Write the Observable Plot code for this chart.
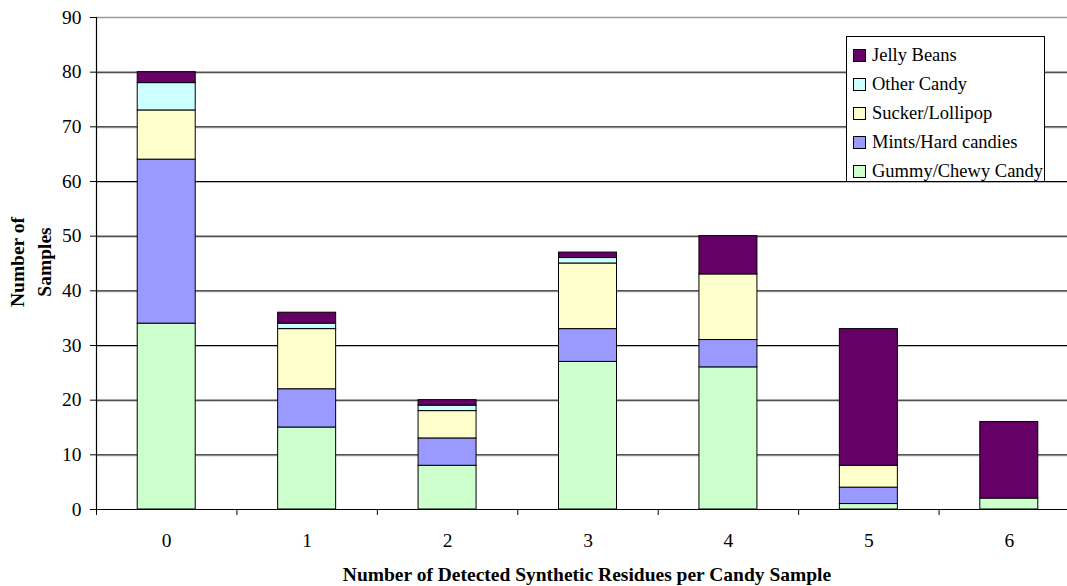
<!DOCTYPE html>
<html>
<head>
<meta charset="utf-8">
<script src="https://cdn.jsdelivr.net/npm/d3@7"></script>
<script src="https://cdn.jsdelivr.net/npm/@observablehq/plot@0.6"></script>
<style>
  html, body { margin: 0; padding: 0; background: #fff; overflow: hidden; }
  #wrap { position: relative; width: 1067px; height: 586px; overflow: hidden; font-family: "Liberation Serif", "Times New Roman", serif; }
  #wrap svg { overflow: hidden; }
  #wrap svg text, #wrap svg g { font-family: "Liberation Serif", "Times New Roman", serif !important; }
  .ytitle { position: absolute; left: 31px; top: 262px; transform: translate(-50%, -50%) rotate(-90deg); font-weight: bold; font-size: 19.5px; text-align: center; line-height: 27px; white-space: nowrap; }
  .xtitle { position: absolute; left: 587px; top: 575px; transform: translate(-50%, -50%); font-weight: bold; font-size: 19.5px; white-space: nowrap; }
  .legend { position: absolute; left: 846px; top: 36px; width: 199px; height: 146px; border: 1px solid #000; background: #fff; box-sizing: border-box; font-family: "Liberation Serif", "Times New Roman", serif; }
  .legend .item { position: absolute; left: 6px; height: 20px; display: flex; align-items: center; font-size: 18.5px; white-space: nowrap; }
  .legend .sw { width: 11px; height: 11px; border: 1px solid #000; margin-right: 6px; }
</style>
</head>
<body>
<div id="wrap"></div>
<script>
// Categories: number of detected synthetic residues
const categories = [0, 1, 2, 3, 4, 5, 6];
// Series (bottom to top in stack)
const seriesNames = ["Gummy/Chewy Candy", "Mints/Hard candies", "Sucker/Lollipop", "Other Candy", "Jelly Beans"];
const seriesColors = ["#CCFFCC", "#9999FF", "#FFFFCC", "#CCFFFF", "#660066"];
const gummy  = [34, 15, 8, 27, 26, 1, 2];
const mints  = [30, 7, 5, 6, 5, 3, 0];
const sucker = [9, 11, 5, 12, 12, 4, 0];
const other  = [5, 1, 1, 1, 0, 0, 0];
const jelly  = [2, 2, 1, 1, 7, 25, 14];
const yTicks = [0, 10, 20, 30, 40, 50, 60, 70, 80, 90];

const seriesValues = [gummy, mints, sucker, other, jelly];

// Build stacked rows
const rows = [];
categories.forEach((c, i) => {
  let base = 0;
  seriesNames.forEach((s, k) => {
    const v = seriesValues[k][i];
    rows.push({cat: c, series: s, y1: base, y2: base + v, value: v});
    base += v;
  });
});
const drawn = rows.filter(d => d.value > 0);
const halfBar = 0.2065;
const boundaries = d3.range(-0.5, 7, 1);

const chart = Plot.plot({
  width: 1067,
  height: 586,
  marginTop: 17,
  marginBottom: 77,
  marginLeft: 96,
  marginRight: 0,
  style: {fontFamily: "'Liberation Serif', 'Times New Roman', serif", fontSize: "19.5px", color: "#000", background: "#fff", overflow: "hidden"},
  x: {type: "linear", domain: [-0.5, 6.5], range: [96, 1079]},
  y: {domain: [0, 90]},
  color: {domain: seriesNames, range: seriesColors},
  marks: [
    Plot.ruleY(yTicks.filter(t => t > 0 && t < 90), {stroke: "#b8b8b8", strokeWidth: 1, dy: 1}),
    Plot.ruleY(yTicks.filter(t => t > 0 && t < 90), {stroke: "#000", strokeWidth: 1}),
    Plot.ruleY([90], {stroke: "#9a9a9a", strokeWidth: 1.5}),
    Plot.rect(drawn, {
      x1: d => d.cat - halfBar,
      x2: d => d.cat + halfBar,
      y1: "y1",
      y2: "y2",
      fill: "series",
      stroke: "#000",
      strokeWidth: 1
    }),
    Plot.ruleX([-0.5], {stroke: "#000", strokeWidth: 1.2}),
    Plot.ruleY([0], {stroke: "#000", strokeWidth: 1.2}),
    Plot.axisY({ticks: yTicks, tickSize: 6, tickPadding: 9, label: null, fontSize: 19.5}),
    Plot.axisX({ticks: boundaries, tickSize: 6, tickFormat: () => "", label: null}),
    Plot.axisX({ticks: categories, tickSize: 0, tickPadding: 24, tickFormat: d => String(d), label: null, fontSize: 19.5})
  ]
});
const wrap = document.getElementById("wrap");
wrap.appendChild(chart);

// Y-axis title
const yt = document.createElement("div");
yt.className = "ytitle";
yt.innerHTML = "Number of<br>Samples";
wrap.appendChild(yt);

// X-axis title
const xt = document.createElement("div");
xt.className = "xtitle";
xt.textContent = "Number of Detected Synthetic Residues per Candy Sample";
wrap.appendChild(xt);

// Legend (top-to-bottom: reverse stack order)
const lg = document.createElement("div");
lg.className = "legend";
const order = seriesNames.map((s, k) => ({s, c: seriesColors[k]})).reverse();
order.forEach((o, i) => {
  const it = document.createElement("div");
  it.className = "item";
  it.style.top = (8 + i * 29) + "px";
  const sw = document.createElement("div");
  sw.className = "sw";
  sw.style.background = o.c;
  const tx = document.createElement("span");
  tx.textContent = o.s;
  it.appendChild(sw);
  it.appendChild(tx);
  lg.appendChild(it);
});
wrap.appendChild(lg);
</script>
</body>
</html>
